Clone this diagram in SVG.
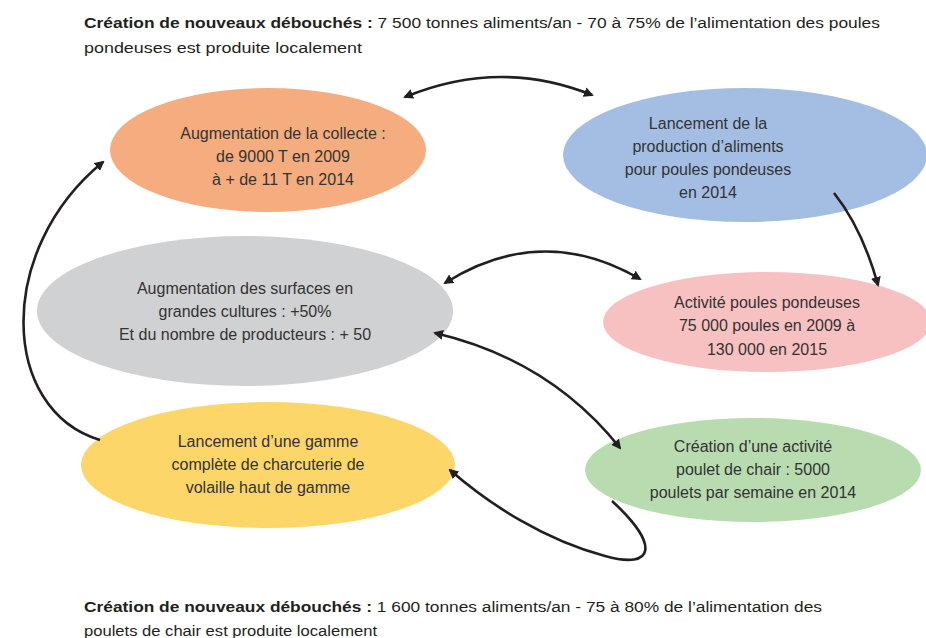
<svg xmlns="http://www.w3.org/2000/svg" width="926" height="638" viewBox="0 0 926 638">
<style>
text{font-family:"Liberation Sans",Arial,sans-serif;font-size:14px;fill:#231f20}
.n text{text-anchor:middle;font-size:16px;fill:#333}
.c path{fill:none;stroke:#231f20;stroke-width:2.6}
.h{font-size:15.5px}
</style>
<defs>
<marker id="a" markerWidth="10" markerHeight="10" refX="8" refY="5" orient="auto-start-reverse" markerUnits="userSpaceOnUse" viewBox="0 0 10 10">
<path d="M0,0 L10,5 L0,10 z" fill="#231f20"/>
</marker>
</defs>
<rect width="926" height="638" fill="#fff"/>
<text class="h" x="84" y="28" textLength="796" lengthAdjust="spacingAndGlyphs"><tspan font-weight="bold">Création de nouveaux débouchés :</tspan> 7 500 tonnes aliments/an - 70 à 75% de l’alimentation des poules</text>
<text class="h" x="84" y="53" textLength="278" lengthAdjust="spacingAndGlyphs">pondeuses est produite localement</text>
<g id="n1" class="n"><ellipse cx="268" cy="150" rx="158" ry="62" fill="#f5ad7f"/><text x="283" y="139">Augmentation de la collecte :</text><text x="283" y="162">de 9000 T en 2009</text><text x="283" y="185">à + de 11 T en 2014</text></g>
<g id="n2" class="n"><ellipse cx="745" cy="155" rx="182" ry="67" fill="#a4bee3"/><text x="708" y="129">Lancement de la</text><text x="708" y="152">production d’aliments</text><text x="708" y="175">pour poules pondeuses</text><text x="708" y="198">en 2014</text></g>
<g id="n3" class="n"><ellipse cx="245" cy="311" rx="208" ry="75" fill="#d0d1d3"/><text x="245" y="294">Augmentation des surfaces en</text><text x="245" y="317">grandes cultures : +50%</text><text x="245" y="340">Et du nombre de producteurs : + 50</text></g>
<g id="n4" class="n"><ellipse cx="767" cy="322" rx="164" ry="50" fill="#f7c1c1"/><text x="767" y="308">Activité poules pondeuses</text><text x="767" y="331">75 000 poules en 2009 à</text><text x="767" y="355">130 000 en 2015</text></g>
<g id="n5" class="n"><ellipse cx="268" cy="465" rx="187" ry="63" fill="#fcd669"/><text x="268" y="447">Lancement d’une gamme</text><text x="268" y="470">complète de charcuterie de</text><text x="268" y="493">volaille haut de gamme</text></g>
<g id="n6" class="n"><ellipse cx="753" cy="470" rx="168" ry="52" fill="#b8dcb0"/><text x="753" y="452">Création d’une activité</text><text x="753" y="475">poulet de chair : 5000</text><text x="753" y="498">poulets par semaine en 2014</text></g>
<g id="connectors" class="c">
<path d="M405,97 Q500,58 592,95" marker-start="url(#a)" marker-end="url(#a)"/>
<path d="M834,193 Q862,228 878,285" marker-end="url(#a)"/>
<path d="M445,283 Q542,222 640,279" marker-start="url(#a)" marker-end="url(#a)"/>
<path d="M435,333 Q550,360 620,448" marker-start="url(#a)" marker-end="url(#a)"/>
<path d="M612,501 C660,545 655,570 605,556 C545,540 490,505 450,470" marker-end="url(#a)"/>
<path d="M100,440 C0,410 -5,250 103,162" marker-end="url(#a)"/>
</g>
<text class="h" x="84" y="612" textLength="738" lengthAdjust="spacingAndGlyphs"><tspan font-weight="bold">Création de nouveaux débouchés :</tspan> 1 600 tonnes aliments/an - 75 à 80% de l’alimentation des</text>
<text class="h" x="84" y="636" textLength="293" lengthAdjust="spacingAndGlyphs">poulets de chair est produite localement</text>
</svg>
